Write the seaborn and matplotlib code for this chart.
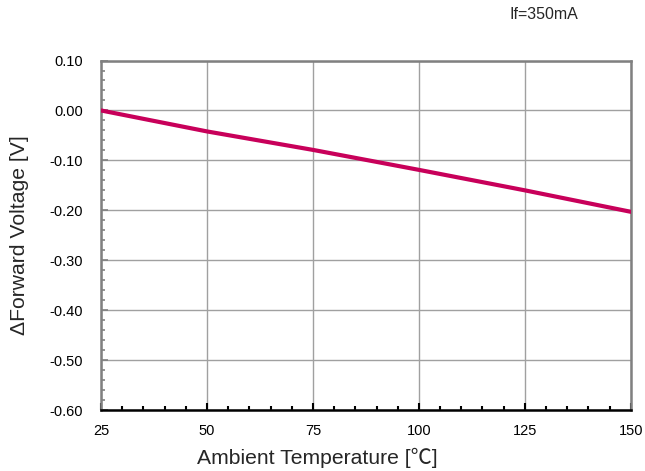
import matplotlib
matplotlib.use("Agg")
import matplotlib.pyplot as plt
from matplotlib.ticker import MultipleLocator, FormatStrFormatter
import seaborn as sns
import pandas as pd

# values
temps = [25, 50, 75, 100, 125, 150]
dvf = [0.000, -0.042, -0.079, -0.119, -0.160, -0.203]

df = pd.DataFrame({"Ta": temps, "dVf": dvf})

sns.set_theme(style="white")
plt.rcParams['font.family'] = ['Liberation Sans', 'Noto Sans CJK JP', 'DejaVu Sans']
plt.rcParams['axes.unicode_minus'] = False

fig = plt.figure(figsize=(6.45, 4.71), dpi=100)
ax = fig.add_axes([0.1566, 0.1295, 0.8214, 0.742])

sns.lineplot(data=df, x="Ta", y="dVf", color="#C8005A", linewidth=3, ax=ax, zorder=5)

ax.set_xlim(25, 150)
ax.set_ylim(-0.60, 0.10)
ax.xaxis.set_major_locator(MultipleLocator(25))
ax.xaxis.set_minor_locator(MultipleLocator(5))
ax.yaxis.set_major_locator(MultipleLocator(0.1))
ax.yaxis.set_minor_locator(MultipleLocator(0.02))
ax.yaxis.set_major_formatter(FormatStrFormatter('%.2f'))

ax.grid(True, which="major", color="#A0A0A0", linewidth=1)
ax.tick_params(axis="both", which="both", direction="in", labelsize=10.5,
               labelcolor="black", bottom=True, left=True, top=False, right=False)
ax.tick_params(axis="x", which="major", length=5, width=1.5, color="black", pad=10)
ax.tick_params(axis="x", which="minor", length=3, width=1.5, color="black")
ax.tick_params(axis="y", which="major", length=5, width=1.2, color="#808080", pad=13)
ax.tick_params(axis="y", which="minor", length=3, width=1.2, color="#808080")

for side in ["top", "right", "left"]:
    ax.spines[side].set_color("#808080")
    ax.spines[side].set_linewidth(1.8)
ax.spines["bottom"].set_color("black")
ax.spines["bottom"].set_linewidth(1.8)

ax.set_xlabel("Ambient Temperature [℃]", fontsize=15.2)
ax.xaxis.set_label_coords(0.408, -0.108)
ax.set_ylabel("ΔForward Voltage [V]", fontsize=15.2, labelpad=15)

fig.text(0.843, 0.970, "If=350mA", fontsize=11.5, ha="center", va="center")

fig.savefig("out.png", dpi=100, facecolor="white")
